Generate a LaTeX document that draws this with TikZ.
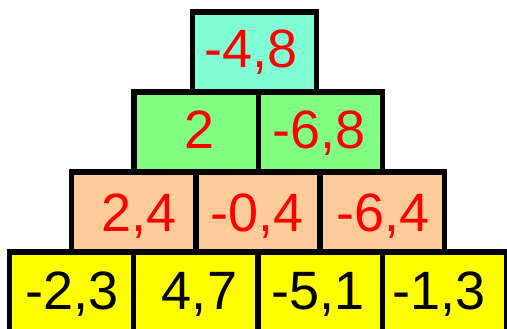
\documentclass[tikz,border=0pt]{standalone}
\usepackage{fontspec}
\setmainfont{Liberation Sans}
\definecolor{caqua}{RGB}{128,255,212}
\definecolor{cgreen}{RGB}{128,255,128}
\definecolor{cpeach}{RGB}{255,204,153}
\definecolor{cyell}{RGB}{255,255,0}
\definecolor{cred}{RGB}{255,0,0}
\begin{document}
\begin{tikzpicture}[
  cell/.style={draw=black, line width=5.5pt, minimum width=124.3pt, minimum height=80pt, inner sep=0pt, outer sep=0pt},
  num/.style={inner sep=0pt, text height=38.7pt, text depth=0pt, font=\fontsize{54}{54}\selectfont},
  rnum/.style={num, text=cred},
  bnum/.style={num, text=black}
]
\useasboundingbox (0,0) rectangle (507pt,-329pt);
% row 4
\node[cell, fill=cyell] (d1) at (71.5pt,-292.2pt) {};
\node[cell, fill=cyell] (d2) at (195.8pt,-292.2pt) {};
\node[cell, fill=cyell] (d3) at (320.1pt,-292.2pt) {};
\node[cell, fill=cyell] (d4) at (444.4pt,-292.2pt) {};
% row 3
\node[cell, fill=cpeach] (c1) at (133.6pt,-212.2pt) {};
\node[cell, fill=cpeach] (c2) at (258pt,-212.2pt) {};
\node[cell, fill=cpeach] (c3) at (382.3pt,-212.2pt) {};
% row 2
\node[cell, fill=cgreen] (b1) at (196.1pt,-132.2pt) {};
\node[cell, fill=cgreen] (b2) at (320.4pt,-132.2pt) {};
% row 1
\node[cell, fill=caqua] (a1) at (254.5pt,-52.2pt) {};
% texts
\node[rnum] (ta1) at (251pt,-48pt) {-4,8};
\node[rnum] (tb1) at (200pt,-128.8pt) {2};
\node[rnum] (tb2) at (319pt,-128.8pt) {-6,8};
\node[rnum] (tc1) at (139.3pt,-212.5pt) {2,4};
\node[rnum] (tc2) at (257pt,-212.5pt) {-0,4};
\node[rnum] (tc3) at (383.3pt,-212.5pt) {-6,4};
\node[bnum] (td1) at (71.7pt,-290pt) {-2,3};
\node[bnum] (td2) at (199.5pt,-290pt) {4,7};
\node[bnum] (td3) at (317.8pt,-290pt) {-5,1};
\node[bnum] (td4) at (438.8pt,-290pt) {-1,3};
\end{tikzpicture}
\end{document}
